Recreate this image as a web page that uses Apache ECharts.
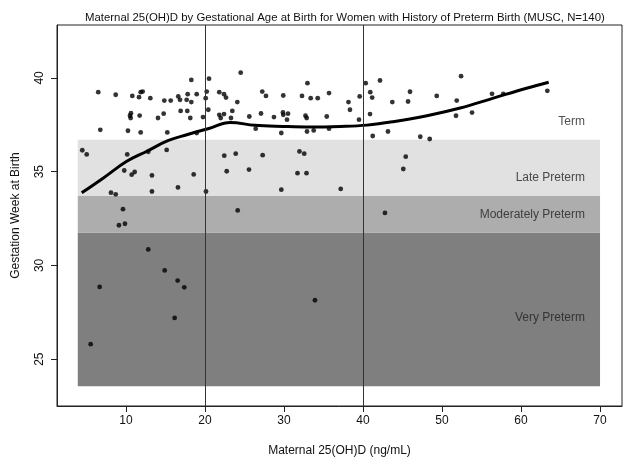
<!DOCTYPE html>
<html>
<head>
<meta charset="utf-8">
<script src="https://cdn.jsdelivr.net/npm/echarts@6/dist/echarts.min.js"></script>
<style>
html,body{margin:0;padding:0;background:#fff;}
#chart{width:625px;height:462px;}
</style>
</head>
<body>
<div id="chart"></div>
<script>
// ---- data ----
const chartTitle = "Maternal 25(OH)D by Gestational Age at Birth for Women with History of Preterm Birth (MUSC, N=140)";
const xTitle = "Maternal 25(OH)D (ng/mL)";
const yTitle = "Gestation Week at Birth";
const xTicks = [10, 20, 30, 40, 50, 60, 70];
const yTicks = [25, 30, 35, 40];
const xRange = [1.27, 72.78];
const yRange = [22.5, 42.82];

const vitD = [
  6.49,8.70,10.80,11.65,11.86,12.11,13.08,14.85,15.66,16.62,16.84,17.81,17.68,18.27,18.95,18.27,
  10.63,10.51,10.59,11.73,14.05,14.77,16.92,17.76,18.14,19.75,6.75,10.25,11.86,15.23,18.95,
  4.47,5.03,10.16,12.82,15.15,9.78,10.72,11.10,13.29,18.57,16.58,13.29,8.10,8.70,20.13,
  9.62,9.11,9.87,24.14,12.82,14.90,6.67,16.54,17.38,16.16,5.53,
  20.51,24.52,20.22,20.09,20.42,21.81,22.41,22.66,24.09,21.81,22.41,21.99,23.46,23.29,
  27.25,27.72,27.09,25.61,26.42,28.73,29.91,29.87,29.91,30.51,30.38,29.66,
  32.28,32.97,33.38,34.27,32.72,32.87,32.91,33.76,35.41,35.70,35.70,
  38.16,38.35,39.49,39.58,40.34,40.92,41.16,40.89,41.23,42.15,
  22.44,23.89,27.30,22.75,25.57,31.96,32.56,31.71,32.85,29.66,37.18,45.41,45.10,42.78,33.92,
  43.71,43.16,45.95,45.70,47.25,48.44,49.33,52.41,51.86,51.77,53.80,56.33,57.76,63.33
];
const gestWeek = [
  39.24,39.10,39.04,38.97,39.24,39.27,38.92,38.79,38.79,39.01,38.83,39.13,38.83,38.71,39.13,39.89,
  38.12,37.98,37.86,37.99,37.86,38.09,38.24,38.24,37.86,37.91,37.23,37.18,37.09,37.09,37.06,
  36.14,35.92,35.92,36.06,36.16,35.06,34.84,34.98,34.80,34.85,34.16,33.94,33.88,33.79,33.94,
  33.00,32.14,32.22,32.93,30.85,29.73,28.85,29.19,28.83,27.20,25.80,
  39.96,40.28,39.27,38.92,38.30,39.24,39.13,38.95,38.71,38.03,38.07,37.86,38.24,37.86,
  39.27,39.04,38.10,37.94,37.29,37.91,39.06,38.16,38.03,38.09,37.77,37.06,
  39.04,39.72,38.92,38.92,37.98,37.86,37.14,37.20,37.94,39.19,37.29,
  38.71,38.30,37.77,39.01,39.72,39.24,38.95,38.07,36.90,39.86,
  35.85,35.96,35.88,35.02,35.11,36.08,35.96,34.92,34.92,34.04,34.08,35.80,35.14,32.80,28.14,
  38.71,37.14,39.26,38.74,36.86,36.74,39.04,40.09,38.79,37.98,38.15,39.15,39.15,39.31
];

// smoothed (loess) fit
const curveX = [4.4,7.1,10.1,12.7,15.3,17.7,20.5,23.2,26.3,29.9,33.3,37.1,40.5,43.8,48.1,52.3,56.5,60.7,63.5];
const curveY = [33.87,34.65,35.55,36.1,36.65,36.97,37.3,37.62,37.47,37.41,37.38,37.41,37.48,37.66,37.98,38.39,38.92,39.45,39.77];

// category bands
const bandNames = ["Very Preterm", "Moderately Preterm", "Late Preterm", "Term"];
const bandLow  = [23.55, 31.75, 33.7, null];
const bandHigh = [31.75, 33.7, 36.7, null];
const bandXFrom = 3.9, bandXTo = 70;
const bandLabelX = 68.1;
const bandLabelY = [27.23, 32.71, 34.68, 37.66];

const refLinesX = [20, 40];

// ---- styles ----
const bandColors = ["#7f7f7f", "#adadad", "#e1e1e1"];

const chart = echarts.init(document.getElementById('chart'), null, {renderer: 'canvas'});

const areaData = [];
for (let i = 0; i < 3; i++) {
  areaData.push([
    {coord: [bandXFrom, bandLow[i]], itemStyle: {color: bandColors[i]}},
    {coord: [bandXTo, bandHigh[i]]}
  ]);
}

const font = 'Liberation Sans, Arial, sans-serif';

chart.setOption({
  animation: false,
  backgroundColor: '#fff',
  title: {
    text: chartTitle,
    left: 80,
    top: 7,
    textStyle: {fontFamily: font, fontSize: 11.4, fontWeight: 'normal', color: '#111'}
  },
  grid: {
    left: 57, right: 3, top: 25, bottom: 55,
    show: true, borderColor: '#222', borderWidth: 1, backgroundColor: 'transparent'
  },
  xAxis: {
    type: 'value',
    min: xRange[0], max: xRange[1],
    name: xTitle, nameLocation: 'middle', nameGap: 39,
    nameTextStyle: {fontFamily: font, fontSize: 12, color: '#111'},
    axisLine: {show: true, onZero: false, lineStyle: {color: '#222'}},
    axisTick: {show: true, length: 6, lineStyle: {color: '#222'}, customValues: xTicks},
    axisLabel: {customValues: xTicks, margin: 9, fontFamily: font, fontSize: 12, color: '#111'},
    splitLine: {show: false}
  },
  yAxis: {
    type: 'value',
    min: yRange[0], max: yRange[1],
    name: yTitle, nameLocation: 'middle', nameGap: 35,
    nameTextStyle: {fontFamily: font, fontSize: 12, color: '#111'},
    axisLine: {show: true, onZero: false, lineStyle: {color: '#222'}},
    axisTick: {show: true, length: 6, lineStyle: {color: '#222'}, customValues: yTicks},
    axisLabel: {customValues: yTicks, rotate: 90, margin: 11, fontFamily: font, fontSize: 12, color: '#111'},
    splitLine: {show: false}
  },
  series: [
    {
      type: 'scatter',
      name: 'bands',
      data: [],
      silent: true,
      markArea: {silent: true, itemStyle: {opacity: 1}, label: {show: false}, data: areaData},
      markLine: {
        silent: true, symbol: 'none',
        label: {show: false},
        lineStyle: {color: '#333', width: 1, type: 'solid'},
        data: refLinesX.map(v => ({xAxis: v}))
      },
      z: 1
    },
    {
      type: 'scatter',
      name: 'labels',
      data: bandNames.map((n, i) => [bandLabelX, bandLabelY[i], n]),
      symbolSize: 0,
      silent: true,
      label: {
        show: true, position: 'left', distance: 0,
        formatter: p => p.value[2],
        fontFamily: font, fontSize: 12, color: '#222'
      },
      z: 2
    },
    {
      type: 'scatter',
      name: 'women',
      data: vitD.map((x, i) => [x, gestWeek[i]]),
      symbol: 'circle',
      symbolSize: 4.8,
      itemStyle: {color: '#000'},
      z: 3
    },
    {
      type: 'line',
      name: 'fit',
      data: curveX.map((x, i) => [x, curveY[i]]),
      smooth: 0.4,
      showSymbol: false,
      lineStyle: {color: '#000', width: 3},
      z: 4
    }
  ]
});
</script>
</body>
</html>
